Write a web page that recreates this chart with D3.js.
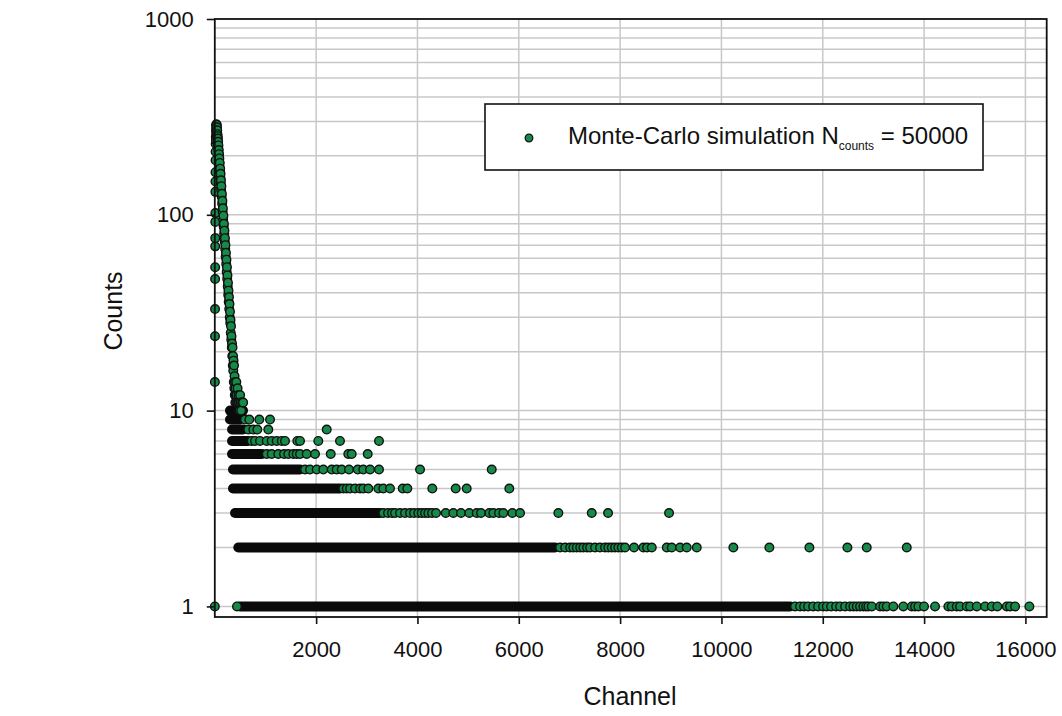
<!DOCTYPE html>
<html><head><meta charset="utf-8">
<script src="https://cdn.jsdelivr.net/npm/d3@7/dist/d3.min.js"></script>
<style>
body{margin:0;background:#fff;}
svg text{font-family:"Liberation Sans",Arial,Helvetica,sans-serif;fill:#111;}
</style>
</head><body>
<svg id="chart" width="1062" height="716"></svg>
<script>
// ---------- data ----------
const xTicks = [2000, 4000, 6000, 8000, 10000, 12000, 14000, 16000];
const yTicks = [1, 10, 100, 1000];

// peak region (channel, counts)
const peakChannels = [2,4,5,6,7,8,9,10,11,12,13,14,15,16,
  18,20,22,24,26,28,30,32,34,36,38,40,42,44,46,48,50,52,54,56,58,60,
  63,66,69,72,75,78,81,84,87,90,
  94,98,102,106,110,114,118,122,126,130,
  135,140,145,150,155,160,165,170,175,180,185,190,195,200,205,210,215,220,225,230,
  235,240,245,250,255,260,265,270,275,280,285,290,295,300,305,310,315,320,325,330,
  335,340,345,350,355,360,365,370,375,380,385,390,395,400,405,410,415,420,425,430,
  440,450,460,470,480,490,500,510,520,540,560];
const peakCounts = [14,24,33,47,54,69,76,92,102,131,148,165,190,210,
  230,250,240,270,285,260,290,275,282,265,288,272,255,280,262,270,248,258,240,252,232,245,
  225,236,215,226,205,214,196,204,186,194,
  176,184,166,172,155,162,144,150,134,140,
  124,128,114,118,104,108,95,99,87,90,80,83,73,76,67,70,61,64,56,59,
  51,54,47,49,43,45,39,41,36,38,33,35,30,32,28,29,25,27,23,24,
  21,22,19,21,17,19,16,18,14,17,13,15,12,14,11,13,12,11,14,12,
  11,13,11,12,11,10,12,11,10,11,11];

// channel ranges where a count level is filled by overlapping markers
const bandCounts = [1, 2, 3, 4, 5, 6, 7, 8, 9, 10];
const bandStart  = [497, 464, 399, 359, 359, 340, 340, 340, 300, 300];
const bandEnd    = [11355, 6716, 3261, 2471, 1682, 932, 655, 557, 497, 557];

// isolated markers on each count level
const level1Channels = [1, 438, 11453, 11552, 11631, 11710, 11809, 11907, 12006, 12079, 12164, 12263, 12342,
  12440, 12539, 12604, 12671, 12736, 12801, 12855, 12900, 12967, 13131, 13196, 13263, 13394, 13591,
  13757, 13822, 13887, 13999, 14216, 14479, 14546, 14645, 14710, 14842, 14907, 15040, 15204, 15336,
  15446, 15632, 15697, 15796, 16078];
const level2Channels = [6815, 6915, 7013, 7077, 7144, 7212, 7274, 7347, 7406, 7505, 7603, 7702, 7768,
  7835, 7900, 7965, 8032, 8098, 8275, 8459, 8532, 8625, 8921, 9019, 9183, 9315, 9513, 10235, 10946,
  11736, 12486, 12868, 13658];
const level3Channels = [3326, 3419, 3498, 3557, 3656, 3754, 3853, 3932, 4017, 4084, 4149, 4215, 4288,
  4367, 4558, 4708, 4860, 5024, 5170, 5255, 5419, 5498, 5610, 5695, 5873, 6025, 6781, 7440, 7762, 8966];
const level4Channels = [2537, 2604, 2669, 2768, 2866, 2931, 3030, 3227, 3326, 3458, 3709, 3800, 4293,
  4755, 4972, 5813];
const level5Channels = [1781, 1879, 2012, 2142, 2308, 2406, 2505, 2649, 2821, 2931, 3064, 3241, 4051, 5466];
const level6Channels = [1025, 1123, 1253, 1366, 1451, 1550, 1617, 1682, 1814, 1978, 2288, 2635, 2702, 3018];
const level7Channels = [728, 794, 892, 1025, 1123, 1222, 1321, 1386, 1629, 1682, 2043, 2471, 3241];
const level8Channels = [661, 760, 839, 1056, 2209];
const level9Channels = [596, 681, 878, 1090];

const legendLabel = "Monte-Carlo simulation N";
const legendSub = "counts";
const legendTail = " = 50000";
const xTitle = "Channel";
const yTitle = "Counts";

// ---------- layout ----------
const M = {left: 214.8, right: 1046.7, top: 19, bottom: 617};
const x = d3.scaleLinear().domain([0, 16420]).range([M.left, M.right]);
const y = d3.scaleLog().domain([0.883, 1000]).range([M.bottom, M.top]);

const svg = d3.select("#chart");
svg.append("rect").attr("width",1062).attr("height",716).attr("fill","#fff");

// grid
const grid = svg.append("g").attr("stroke","#c8c8c8").attr("stroke-width",1.5);
grid.selectAll("line.v").data(xTicks).join("line")
  .attr("x1",d=>x(d)).attr("x2",d=>x(d)).attr("y1",M.top).attr("y2",M.bottom);
grid.selectAll("line.h").data(y.ticks().filter(d=>d>=1 && d<1000)).join("line")
  .attr("y1",d=>y(d)).attr("y2",d=>y(d)).attr("x1",M.left).attr("x2",M.right);

// dense bands
const line = d3.line().x(d=>x(d[0])).y(d=>y(d[1]));
svg.append("g").selectAll("path").data(bandCounts).join("path")
  .attr("d",(c,i)=>line([[bandStart[i],c],[bandEnd[i],c]]))
  .attr("fill","none").attr("stroke","#0a0a0a").attr("stroke-width",10).attr("stroke-linecap","round");

// points
const pts = [];
peakChannels.forEach((ch,i)=>pts.push([ch, peakCounts[i]]));
const levels = [level1Channels, level2Channels, level3Channels, level4Channels, level5Channels,
  level6Channels, level7Channels, level8Channels, level9Channels];
levels.forEach((arr,li)=>arr.forEach(ch=>pts.push([ch, li+1])));
pts.sort((a,b)=>a[0]-b[0]);

svg.append("g").selectAll("circle").data(pts).join("circle")
  .attr("cx",d=>x(d[0])).attr("cy",d=>y(d[1])).attr("r",4.3)
  .attr("fill","#168a48").attr("stroke","#111").attr("stroke-width",1.4);

// frame
svg.append("rect").attr("x",M.left).attr("y",M.top)
  .attr("width",M.right-M.left).attr("height",M.bottom-M.top)
  .attr("fill","none").attr("stroke","#111").attr("stroke-width",1.8);

// axes
const yAxis = svg.append("g").attr("transform",`translate(${M.left},0)`)
  .call(d3.axisLeft(y).tickValues(yTicks).tickFormat(d=>String(d)).tickSize(8).tickPadding(13));
yAxis.select(".domain").remove();
const xAxis = svg.append("g").attr("transform",`translate(0,${M.bottom})`)
  .call(d3.axisBottom(x).tickValues(xTicks).tickFormat(d=>String(d)).tickSize(7).tickPadding(17));
xAxis.select(".domain").remove();
[yAxis,xAxis].forEach(g=>{
  g.selectAll(".tick line").attr("stroke","#111").attr("stroke-width",1.6);
  g.selectAll("text").attr("font-size",22).attr("font-family",'"Liberation Sans",Arial,sans-serif').attr("fill","#111");
});

// axis titles
svg.append("text").attr("x",630).attr("y",705).attr("text-anchor","middle")
  .attr("font-size",25).text(xTitle);
svg.append("text").attr("transform","translate(122,311) rotate(-90)").attr("text-anchor","middle")
  .attr("font-size",25).text(yTitle);

// legend
const lg = svg.append("g");
lg.append("rect").attr("x",485).attr("y",104).attr("width",498).attr("height",66)
  .attr("fill","#fff").attr("stroke","#111").attr("stroke-width",1.6);
lg.append("circle").attr("cx",529).attr("cy",138).attr("r",3.8)
  .attr("fill","#168a48").attr("stroke","#111").attr("stroke-width",1.3);
const lt = lg.append("text").attr("x",568).attr("y",144).attr("font-size",24);
lt.append("tspan").text(legendLabel);
lt.append("tspan").attr("font-size",12).attr("dy",6).text(legendSub);
lt.append("tspan").attr("dy",-6).text(legendTail);
</script>
</body></html>
